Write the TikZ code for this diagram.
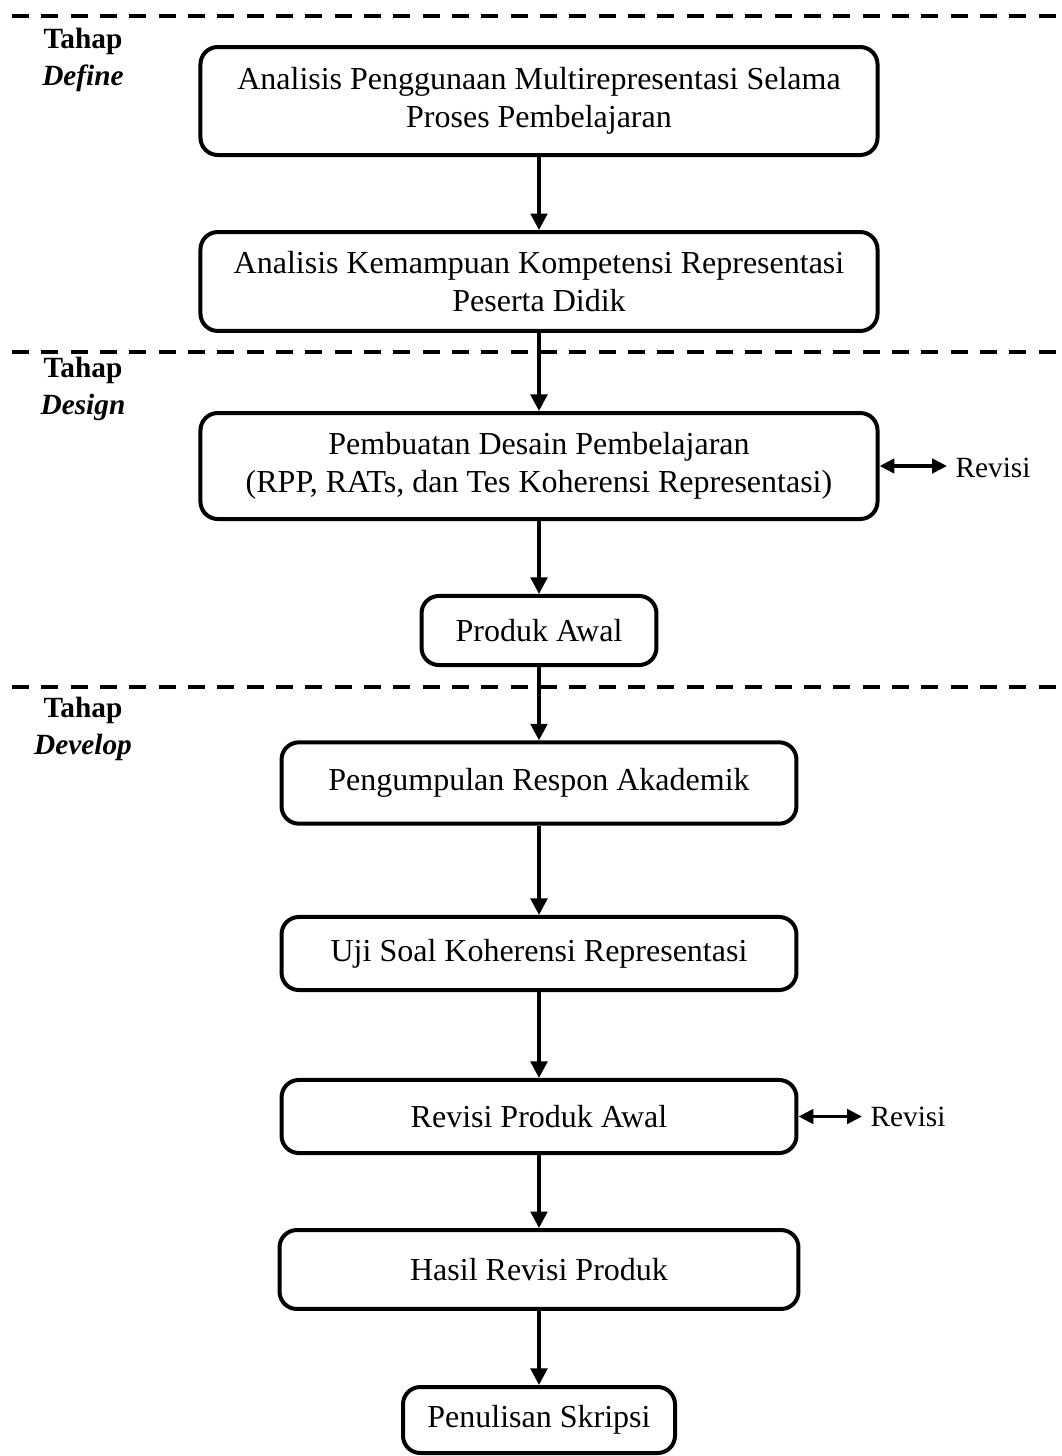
\documentclass[tikz,border=0pt]{standalone}
\usepackage{fontspec}
\setmainfont{Liberation Serif}
\usetikzlibrary{arrows.meta}
\begin{document}
\begin{tikzpicture}[x=0.375pt,y=-0.375pt,
  box/.style={draw, line width=1.5pt, rounded corners=6.5pt, align=center, inner sep=0pt,
    font=\fontsize{12pt}{14.25pt}\selectfont},
  arr/.style={line width=1.35pt, -{Triangle[length=6.2pt,width=6.2pt]}},
  dbl/.style={line width=1.3pt, {Triangle[length=5.6pt,width=5.4pt]}-{Triangle[length=5.6pt,width=5.4pt]}},
  sep/.style={line width=1.5pt, dash pattern=on 6.4pt off 4.6pt},
  stage/.style={align=center, inner sep=0pt, font=\fontsize{11pt}{13.9pt}\selectfont\bfseries},
  rev/.style={anchor=west, inner xsep=3pt, inner ysep=0pt, font=\fontsize{11pt}{13pt}\selectfont}]
\useasboundingbox (0,0) rectangle (1062,1456);
% stage separators
\coordinate (s1a) at (12,16);   \coordinate (s1b) at (1062,16);
\coordinate (s2a) at (12,352);  \coordinate (s2b) at (1062,352);
\coordinate (s3a) at (12,687);  \coordinate (s3b) at (1062,687);
\draw[sep] (s1a) -- (s1b);
\draw[sep] (s2a) -- (s2b);
\draw[sep] (s3a) -- (s3b);
% stage labels
\node[stage] (t1) at (83,60)  {Tahap\\\textit{Define}};
\node[stage] (t2) at (83,389) {Tahap\\\textit{Design}};
\node[stage] (t3) at (83,729) {Tahap\\\textit{Develop}};
% boxes
\node[box, minimum width=253.9pt, minimum height=40.5pt] (b1) at (539,101)
  {Analisis Penggunaan Multirepresentasi Selama\\Proses Pembelajaran};
\node[box, minimum width=253.9pt, minimum height=37.1pt] (b2) at (539,281.5)
  {Analisis Kemampuan Kompetensi Representasi\\Peserta Didik};
\node[box, minimum width=253.9pt, minimum height=39.75pt] (b3) at (539,466)
  {Pembuatan Desain Pembelajaran\\(RPP, RATs, dan Tes Koherensi Representasi)};
\node[box, minimum width=88.1pt, minimum height=25.9pt] (b4) at (539,630.5)
  {Produk Awal};
\node[box, minimum width=193.1pt, minimum height=30.5pt] (b5) at (539,783)
  {Pengumpulan Respon Akademik};
\node[box, minimum width=193.1pt, minimum height=27.4pt] (b6) at (539,953.5)
  {Uji Soal Koherensi Representasi};
\node[box, minimum width=193.1pt, minimum height=27.4pt] (b7) at (539,1116.5)
  {Revisi Produk Awal};
\node[box, minimum width=194.6pt, minimum height=29.6pt] (b8) at (539,1269.5)
  {Hasil Revisi Produk};
\node[box, minimum width=102pt, minimum height=24.75pt] (b9) at (539,1420)
  {Penulisan Skripsi};
% flow
\draw[arr] (b1) -- (b2);
\draw[arr] (b2) -- (b3);
\draw[arr] (b3) -- (b4);
\draw[arr] (b4) -- (b5);
\draw[arr] (b5) -- (b6);
\draw[arr] (b6) -- (b7);
\draw[arr] (b7) -- (b8);
\draw[arr] (b8) -- (b9);
% revisions
\node[rev] (r1) at (947,468) {Revisi};
\node[rev] (r2) at (862,1117) {Revisi};
\draw[dbl] (b3.east) -- (b3.east -| r1.west);
\draw[dbl] (b7.east) -- (b7.east -| r2.west);
\end{tikzpicture}
\end{document}
